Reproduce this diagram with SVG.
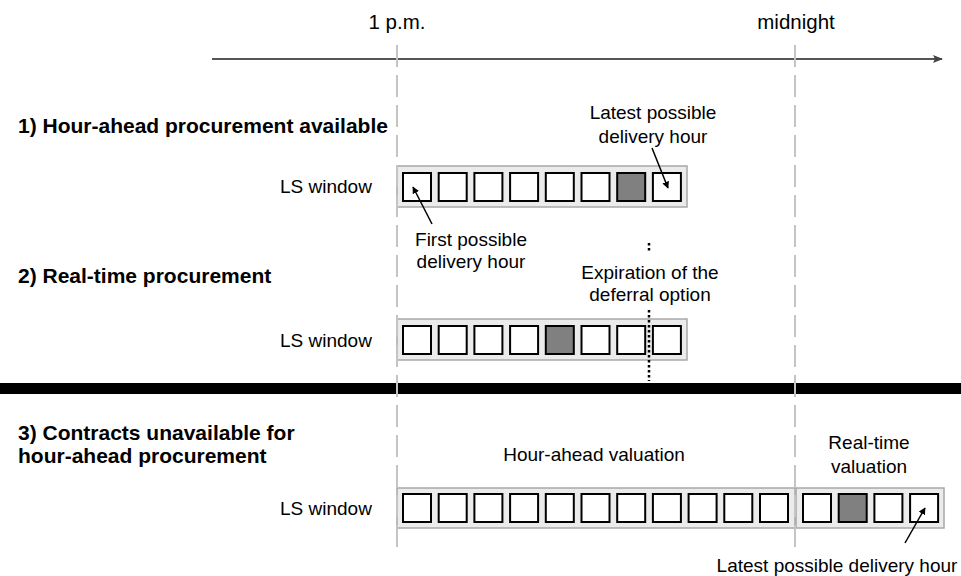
<svg xmlns="http://www.w3.org/2000/svg" width="961" height="576" viewBox="0 0 961 576">
<defs>
<style>
text{font-family:"Liberation Sans",Arial,sans-serif;font-size:19px;fill:#000}
.b{font-weight:bold;font-size:21px}
.t{font-size:20.5px}
.m{text-anchor:middle}
.win{fill:#ebebeb;stroke:#a8a8a8;stroke-width:1.5}
.box{fill:#fff;stroke:#000;stroke-width:2}
.g{fill:#808080}
.dash{stroke:#c4c4c4;stroke-width:2;stroke-dasharray:22 8;fill:none}
.dot{stroke:#000;stroke-width:2.5;stroke-dasharray:2.5 2.5;fill:none}
.arr{stroke:#000;stroke-width:1.5;fill:none;marker-end:url(#ah)}
</style>
<marker id="ah" viewBox="0 0 10 10" refX="9" refY="5" markerWidth="7" markerHeight="7" orient="auto" markerUnits="userSpaceOnUse"><path d="M0,0 L10,5 L0,10 z" fill="#000"/></marker>
<marker id="ax" viewBox="0 0 10 10" refX="9" refY="5" markerWidth="10" markerHeight="10" orient="auto" markerUnits="userSpaceOnUse"><path d="M0,1 L10,5 L0,9 L2,5 z" fill="#444"/></marker>
</defs>
<rect width="961" height="576" fill="#fff"/>
<g id="timeline">
<line x1="212" y1="59" x2="942" y2="59" stroke="#555" stroke-width="2" marker-end="url(#ax)"/>
<text class="m t" x="397" y="29">1 p.m.</text>
<text class="m t" x="796" y="29">midnight</text>
</g>
<g id="separator"><rect x="0" y="383" width="961" height="11" fill="#000"/></g>
<g id="row1">
<text class="b" x="18" y="133">1) Hour-ahead procurement available</text>
<text x="280" y="193">LS window</text>
<rect class="win" x="397" y="166" width="290" height="41"/>
<rect class="box" x="403" y="173" width="28" height="28"/>
<rect class="box" x="438.7" y="173" width="28" height="28"/>
<rect class="box" x="474.4" y="173" width="28" height="28"/>
<rect class="box" x="510.1" y="173" width="28" height="28"/>
<rect class="box" x="545.8" y="173" width="28" height="28"/>
<rect class="box" x="581.5" y="173" width="28" height="28"/>
<rect class="box g" x="617.2" y="173" width="28" height="28"/>
<rect class="box" x="652.9" y="173" width="28" height="28"/>
<text class="m" x="653" y="119">Latest possible</text>
<text class="m" x="653" y="143">delivery hour</text>
<text class="m" x="471" y="246">First possible</text>
<text class="m" x="471" y="268">delivery hour</text>
</g>
<g id="row2">
<text class="b" x="18" y="283">2) Real-time procurement</text>
<text x="280" y="347">LS window</text>
<rect class="win" x="397" y="319" width="290" height="41"/>
<rect class="box" x="403" y="326" width="28" height="28"/>
<rect class="box" x="438.7" y="326" width="28" height="28"/>
<rect class="box" x="474.4" y="326" width="28" height="28"/>
<rect class="box" x="510.1" y="326" width="28" height="28"/>
<rect class="box g" x="545.8" y="326" width="28" height="28"/>
<rect class="box" x="581.5" y="326" width="28" height="28"/>
<rect class="box" x="617.2" y="326" width="28" height="28"/>
<rect class="box" x="652.9" y="326" width="28" height="28"/>
<text class="m" x="650" y="279">Expiration of the</text>
<text class="m" x="650" y="301">deferral option</text>
</g>
<g id="row3">
<text class="b" x="18" y="440">3) Contracts unavailable for</text>
<text class="b" x="18" y="463">hour-ahead procurement</text>
<text class="m" x="594" y="461">Hour-ahead valuation</text>
<text class="m" x="869" y="449">Real-time</text>
<text class="m" x="869" y="473">valuation</text>
<text x="280" y="515">LS window</text>
<rect class="win" x="397" y="488" width="398" height="40"/>
<rect class="win" x="796" y="488" width="148" height="40"/>
<rect class="box" x="403" y="494" width="28" height="28"/>
<rect class="box" x="438.7" y="494" width="28" height="28"/>
<rect class="box" x="474.4" y="494" width="28" height="28"/>
<rect class="box" x="510.1" y="494" width="28" height="28"/>
<rect class="box" x="545.8" y="494" width="28" height="28"/>
<rect class="box" x="581.5" y="494" width="28" height="28"/>
<rect class="box" x="617.2" y="494" width="28" height="28"/>
<rect class="box" x="652.9" y="494" width="28" height="28"/>
<rect class="box" x="688.6" y="494" width="28" height="28"/>
<rect class="box" x="724.3" y="494" width="28" height="28"/>
<rect class="box" x="760" y="494" width="28" height="28"/>
<rect class="box" x="803" y="494" width="28" height="28"/>
<rect class="box g" x="838.7" y="494" width="28" height="28"/>
<rect class="box" x="874.4" y="494" width="28" height="28"/>
<rect class="box" x="910.1" y="494" width="28" height="28"/>
<text class="m" x="837" y="572">Latest possible delivery hour</text>
</g>
<g id="connectors">
<line class="dash" x1="397" y1="45" x2="397" y2="552"/>
<line class="dash" x1="795" y1="45" x2="795" y2="552"/>
<line class="dot" x1="649" y1="243" x2="649" y2="252"/>
<line class="dot" x1="649" y1="310" x2="649" y2="381"/>
<line class="arr" x1="652" y1="148" x2="668" y2="188"/>
<line class="arr" x1="432" y1="224" x2="413" y2="187"/>
<line class="arr" x1="905" y1="543" x2="925" y2="508"/>
</g>
</svg>
